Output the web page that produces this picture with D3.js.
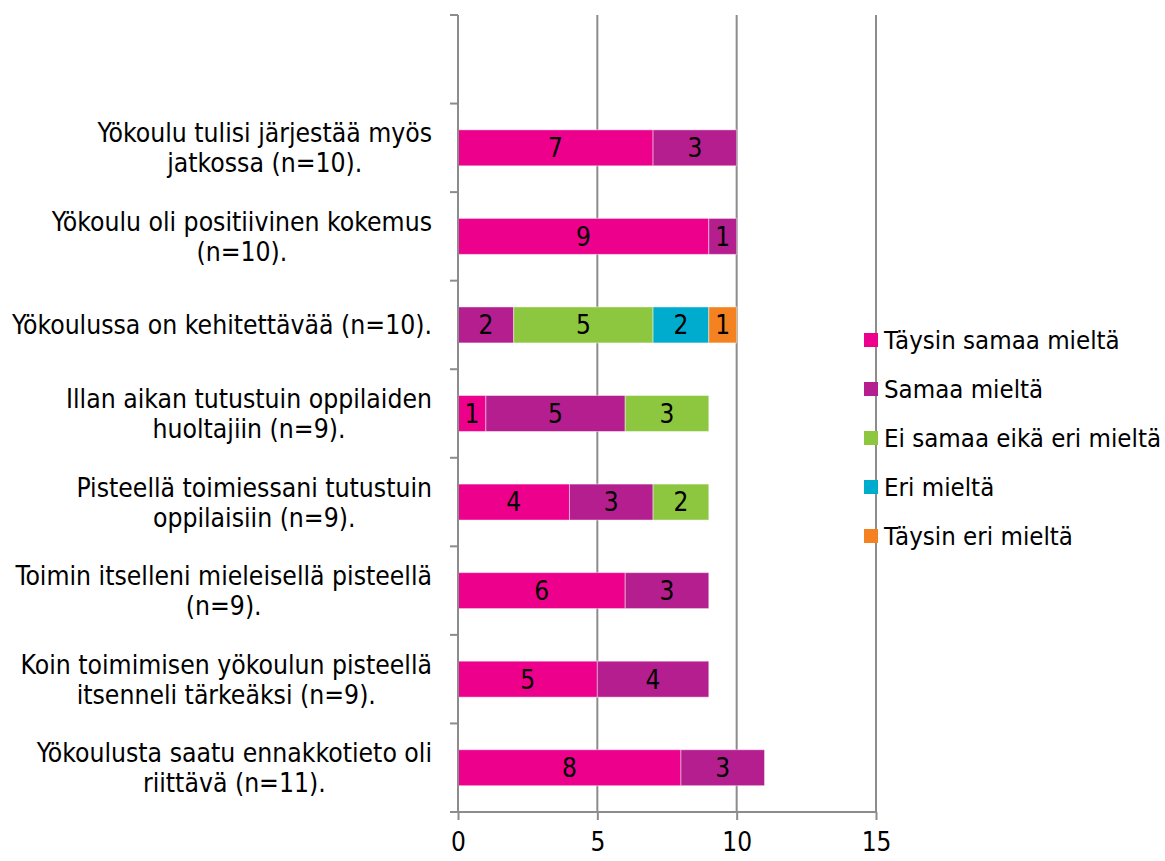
<!DOCTYPE html>
<html lang="fi">
  <head>
    <meta charset="utf-8">
    <title>Yökoulu</title>
    <script src="https://d3js.org/d3.v7.min.js"></script>
    <style>
      body { margin: 0; background: #fff; }
      text { font-family: "DejaVu Sans Condensed", "DejaVu Sans", Verdana, sans-serif; font-stretch: condensed; fill: #000; }
    </style>
  </head>
  <body>
    <div id="chart"></div>
    <script>
      // categories, top to bottom (each as its wrapped lines)
      const categories = [
        ["Yökoulu tulisi järjestää myös", "jatkossa (n=10)."],
        ["Yökoulu oli positiivinen kokemus", "(n=10)."],
        ["Yökoulussa on kehitettävää (n=10)."],
        ["Illan aikan tutustuin oppilaiden", "huoltajiin (n=9)."],
        ["Pisteellä toimiessani tutustuin", "oppilaisiin (n=9)."],
        ["Toimin itselleni mieleisellä pisteellä", "(n=9)."],
        ["Koin toimimisen yökoulun pisteellä", "itsenneli tärkeäksi (n=9)."],
        ["Yökoulusta saatu ennakkotieto oli", "riittävä (n=11)."]
      ]
      const seriesNames = ["Täysin samaa mieltä", "Samaa mieltä", "Ei samaa eikä eri mieltä", "Eri mieltä", "Täysin eri mieltä"]
      const taysinSamaa = [7, 9, 0, 1, 4, 6, 5, 8]
      const samaa       = [3, 1, 2, 5, 3, 3, 4, 3]
      const eiSamaaEiEri = [0, 0, 5, 3, 2, 0, 0, 0]
      const eri         = [0, 0, 2, 0, 0, 0, 0, 0]
      const taysinEri   = [0, 0, 1, 0, 0, 0, 0, 0]
      const xTicks = [0, 5, 10, 15]
      const colors = ["#EC008C", "#B41E8E", "#8DC63F", "#00ACCD", "#F58220"]

      const series = [taysinSamaa, samaa, eiSamaaEiEri, eri, taysinEri]
      const keys = categories.map((c, i) => "c" + i)
      const rows = keys.map((k, i) => {
        const r = { key: k }
        seriesNames.forEach((s, j) => { r[s] = series[j][i] })
        return r
      })

      const width = 1165, height = 861
      const svg = d3.select("#chart").append("svg")
        .attr("width", width)
        .attr("height", height)

      const x = d3.scaleLinear().domain([0, 15]).range([458, 876])
      const y = d3.scaleBand()
        .domain(["empty"].concat(keys))
        .range([15, 812])
        .paddingInner(0.594)
        .paddingOuter(0.297)

      const axisColor = "#8c8c8c"

      // vertical grid lines
      svg.append("g").selectAll("line")
        .data(xTicks.slice(1))
        .join("line")
          .attr("x1", d => x(d)).attr("x2", d => x(d))
          .attr("y1", 15).attr("y2", 812)
          .attr("stroke", axisColor).attr("stroke-width", 2)

      // stacked bars
      const stack = d3.stack().keys(seriesNames)(rows)
      const layers = svg.append("g").selectAll("g")
        .data(stack)
        .join("g")
          .attr("fill", (d, i) => colors[i])

      layers.selectAll("rect")
        .data(d => d.filter(s => s[1] - s[0] > 0))
        .join("rect")
          .attr("x", d => x(d[0]))
          .attr("y", d => y(d.data.key))
          .attr("width", d => x(d[1]) - x(d[0]))
          .attr("height", y.bandwidth())
          .attr("stroke", "rgba(255,255,255,0.45)")
          .attr("stroke-width", 1)

      layers.selectAll("text")
        .data(d => d.filter(s => s[1] - s[0] > 0))
        .join("text")
          .attr("x", d => (x(d[0]) + x(d[1])) / 2)
          .attr("y", d => y(d.data.key) + y.bandwidth() / 2)
          .attr("dy", "0.36em")
          .attr("text-anchor", "middle")
          .style("font-size", "26px")
          .text(d => d[1] - d[0])

      // x axis
      const xAxis = d3.axisBottom(x).tickValues(xTicks).tickSize(8).tickPadding(13)
      const gx = svg.append("g")
        .attr("transform", "translate(0,812)")
        .call(xAxis)
      gx.select(".domain").attr("stroke", axisColor).attr("stroke-width", 2)
        .attr("d", "M450,0H" + x(15))
      gx.selectAll(".tick line").attr("stroke", axisColor).attr("stroke-width", 2)
      gx.selectAll(".tick text").style("font-size", "26px").attr("font-family", null)

      // y axis line + ticks at band boundaries
      svg.append("line")
        .attr("x1", 458).attr("x2", 458).attr("y1", 15).attr("y2", 812)
        .attr("stroke", axisColor).attr("stroke-width", 2)
      const bounds = d3.range(y.domain().length + 1).map(i => y.range()[0] + i * y.step())
      svg.append("g").selectAll("line")
        .data(bounds)
        .join("line")
          .attr("x1", 450).attr("x2", 458)
          .attr("y1", d => d).attr("y2", d => d)
          .attr("stroke", axisColor).attr("stroke-width", 2)

      // category labels, lines centred within a right-aligned block
      const labelRight = 432
      const lineH = 30
      const labels = svg.append("g").style("font-size", "26.3px")
      categories.forEach((lines, i) => {
        const g = labels.append("g")
        const cy = y(keys[i]) + y.bandwidth() / 2
        const texts = lines.map((l, j) => g.append("text")
          .attr("y", cy + (j - (lines.length - 1) / 2) * lineH)
          .attr("dy", "0.36em")
          .attr("text-anchor", "middle")
          .text(l))
        const w = d3.max(texts, t => t.node().getComputedTextLength())
        texts.forEach(t => t.attr("x", labelRight - w / 2))
      })

      // legend
      const legend = svg.append("g").attr("transform", "translate(864,340)")
      const item = legend.selectAll("g")
        .data(seriesNames)
        .join("g")
          .attr("transform", (d, i) => "translate(0," + i * 49 + ")")
      item.append("rect")
        .attr("x", 0).attr("y", -7).attr("width", 14).attr("height", 14)
        .attr("fill", (d, i) => colors[i])
      item.append("text")
        .attr("x", 20)
        .attr("dy", "0.36em")
        .style("font-size", "25.6px")
        .text(d => d)
    </script>
  </body>
</html>
